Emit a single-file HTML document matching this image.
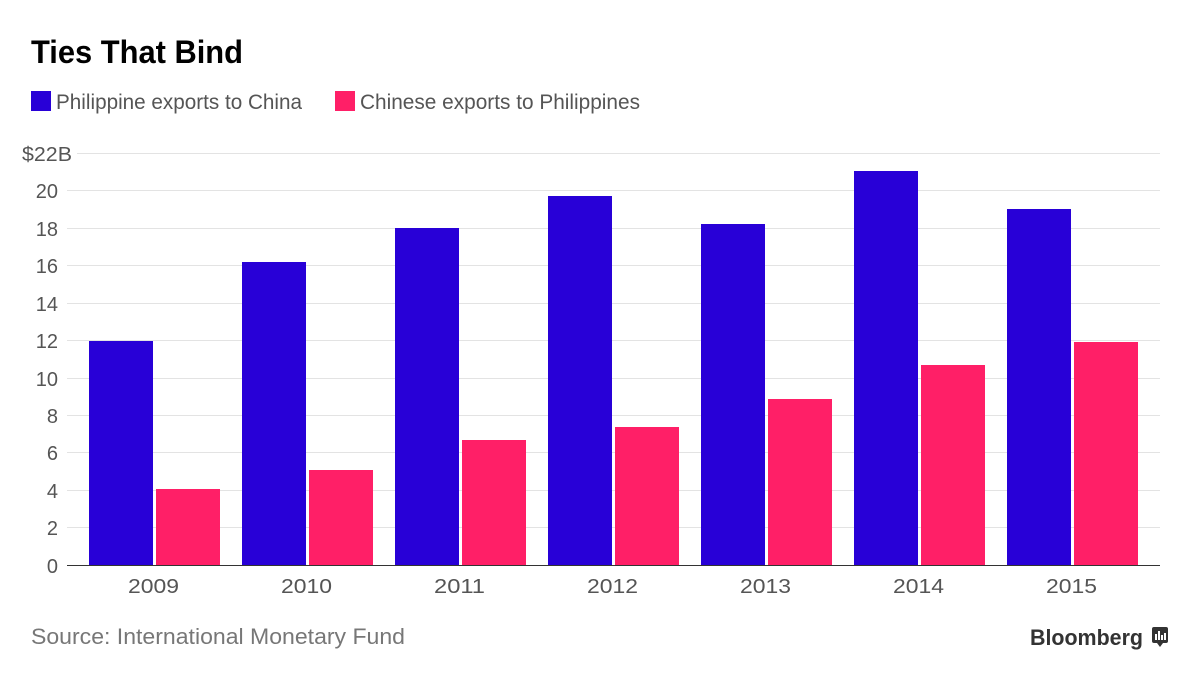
<!DOCTYPE html>
<html><head><meta charset="utf-8"><style>
body{margin:0;background:#fff;width:1200px;height:681px;overflow:hidden;font-family:"Liberation Sans",sans-serif}
</style></head><body>
<svg width="1200" height="681" xmlns="http://www.w3.org/2000/svg" font-family="Liberation Sans, sans-serif">
<text x="31" y="63" font-size="32" font-weight="bold" fill="#000" textLength="212" lengthAdjust="spacingAndGlyphs">Ties That Bind</text>
<rect x="31" y="91" width="20" height="20" fill="#2800d7"/>
<text x="56" y="109" font-size="21" fill="#555" textLength="246" lengthAdjust="spacingAndGlyphs">Philippine exports to China</text>
<rect x="335" y="91" width="20" height="20" fill="#ff1f67"/>
<text x="360" y="109" font-size="21" fill="#555" textLength="280" lengthAdjust="spacingAndGlyphs">Chinese exports to Philippines</text>
<g stroke="#e3e3e3" stroke-width="1">
<line x1="77" x2="1160" y1="153.5" y2="153.5"/>
<line x1="67" x2="1160" y1="190.5" y2="190.5"/>
<line x1="67" x2="1160" y1="228.5" y2="228.5"/>
<line x1="67" x2="1160" y1="265.5" y2="265.5"/>
<line x1="67" x2="1160" y1="303.5" y2="303.5"/>
<line x1="67" x2="1160" y1="340.5" y2="340.5"/>
<line x1="67" x2="1160" y1="378.5" y2="378.5"/>
<line x1="67" x2="1160" y1="415.5" y2="415.5"/>
<line x1="67" x2="1160" y1="452.5" y2="452.5"/>
<line x1="67" x2="1160" y1="490.5" y2="490.5"/>
<line x1="67" x2="1160" y1="527.5" y2="527.5"/>
</g>
<g font-size="20" fill="#555" text-anchor="end">
<text x="72" y="161" textLength="50" lengthAdjust="spacingAndGlyphs">$22B</text>
<text x="58" y="198">20</text>
<text x="58" y="236">18</text>
<text x="58" y="273">16</text>
<text x="58" y="311">14</text>
<text x="58" y="348">12</text>
<text x="58" y="386">10</text>
<text x="58" y="423">8</text>
<text x="58" y="460">6</text>
<text x="58" y="498">4</text>
<text x="58" y="535">2</text>
<text x="58" y="573">0</text>
</g>
<g fill="#2800d7">
<rect x="89" y="341" width="64" height="224"/>
<rect x="242" y="262" width="64" height="303"/>
<rect x="395" y="228" width="64" height="337"/>
<rect x="548" y="196" width="64" height="369"/>
<rect x="701" y="224" width="64" height="341"/>
<rect x="854" y="171" width="64" height="394"/>
<rect x="1007" y="209" width="64" height="356"/>
</g>
<g fill="#ff1f67">
<rect x="156" y="489" width="64" height="76"/>
<rect x="309" y="470" width="64" height="95"/>
<rect x="462" y="440" width="64" height="125"/>
<rect x="615" y="427" width="64" height="138"/>
<rect x="768" y="399" width="64" height="166"/>
<rect x="921" y="365" width="64" height="200"/>
<rect x="1074" y="342" width="64" height="223"/>
</g>
<line x1="67" x2="1160" y1="565.5" y2="565.5" stroke="#333" stroke-width="1"/>
<g font-size="20" fill="#555">
<text x="128" y="593" textLength="51" lengthAdjust="spacingAndGlyphs">2009</text>
<text x="281" y="593" textLength="51" lengthAdjust="spacingAndGlyphs">2010</text>
<text x="434" y="593" textLength="51" lengthAdjust="spacingAndGlyphs">2011</text>
<text x="587" y="593" textLength="51" lengthAdjust="spacingAndGlyphs">2012</text>
<text x="740" y="593" textLength="51" lengthAdjust="spacingAndGlyphs">2013</text>
<text x="893" y="593" textLength="51" lengthAdjust="spacingAndGlyphs">2014</text>
<text x="1046" y="593" textLength="51" lengthAdjust="spacingAndGlyphs">2015</text>
</g>
<text x="31" y="644" font-size="22" fill="#777" textLength="374" lengthAdjust="spacingAndGlyphs">Source: International Monetary Fund</text>
<text x="1030" y="645" font-size="22" font-weight="bold" fill="#333" textLength="113" lengthAdjust="spacingAndGlyphs">Bloomberg</text>
<rect x="1152" y="627" width="16" height="16" rx="2" fill="#333"/>
<path d="M1157 643 l3 4 l3 -4z" fill="#333"/>
<g fill="#fff"><rect x="1155" y="634" width="2" height="6"/><rect x="1158" y="631" width="2" height="9"/><rect x="1161" y="635" width="2" height="5"/><rect x="1164" y="633" width="2" height="7"/></g>
</svg>
</body></html>
